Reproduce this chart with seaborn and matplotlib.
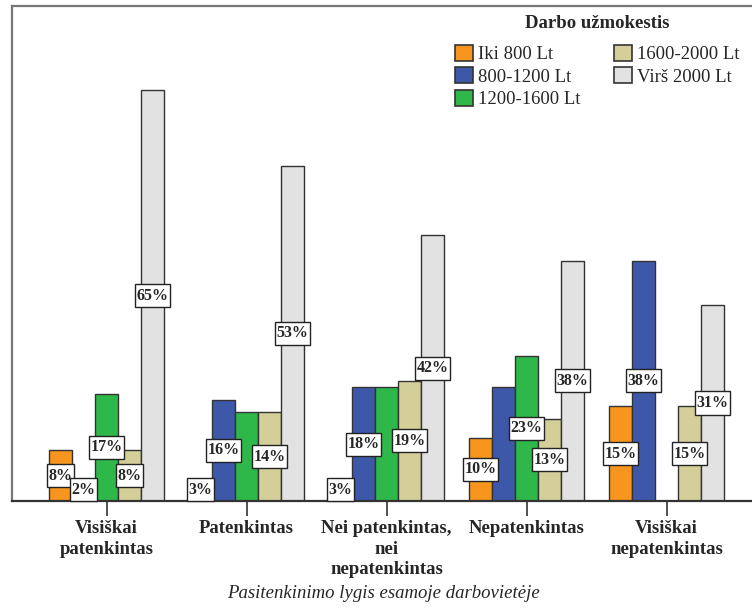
import matplotlib
matplotlib.use("Agg")
import matplotlib.pyplot as plt
from matplotlib.path import Path
import numpy as np
import pandas as pd
import seaborn as sns

# Satisfaction level categories (x axis)
categories = [
    "Visiškai\npatenkintas",
    "Patenkintas",
    "Nei patenkintas,\nnei\nnepatenkintas",
    "Nepatenkintas",
    "Visiškai\nnepatenkintas",
]

# Salary groups (hue)
salary_groups = ["Iki 800 Lt", "800-1200 Lt", "1200-1600 Lt", "1600-2000 Lt", "Virš 2000 Lt"]

# Percent of each salary group per category
pct_iki_800 = [8, 3, 3, 10, 15]
pct_800_1200 = [2, 16, 18, 18, 38]
pct_1200_1600 = [17, 14, 18, 23, 0]
pct_1600_2000 = [8, 14, 19, 13, 15]
pct_virs_2000 = [65, 53, 42, 38, 31]

# Whether the value label of each bar is printed
show_iki_800 = [True, True, True, True, True]
show_800_1200 = [True, True, True, False, True]
show_1200_1600 = [True, False, False, True, False]
show_1600_2000 = [True, True, True, True, True]
show_virs_2000 = [True, True, True, True, True]

palette = ["#F7951F", "#3D57A9", "#2FB84A", "#D4CF99", "#E2E2E2"]

series = [pct_iki_800, pct_800_1200, pct_1200_1600, pct_1600_2000, pct_virs_2000]
shows = [show_iki_800, show_800_1200, show_1200_1600, show_1600_2000, show_virs_2000]

rows = []
for g, vals in zip(salary_groups, series):
    for c, v in zip(categories, vals):
        rows.append({"Pasitenkinimas": c, "Užmokestis": g, "Procentai": v})
df = pd.DataFrame(rows)

sns.set_style("white")
plt.rcParams["font.family"] = ["Liberation Serif", "DejaVu Serif"]


def label_box(x0, y0, width, height, mutation_size):
    """Rectangular box with separate horizontal and vertical padding."""
    px = 0.10 * mutation_size
    py = 0.22 * mutation_size
    x0, y0 = x0 - px, y0 - py
    x1, y1 = x0 + width + 2 * px, y0 + height + 2 * py
    return Path([(x0, y0), (x1, y0), (x1, y1), (x0, y1), (x0, y0)],
                closed=True)


fig = plt.figure(figsize=(7.52, 6.10), dpi=100)
ax = fig.add_axes([12 / 752, 109 / 610, 749 / 752, 495 / 610])

sns.barplot(
    data=df, x="Pasitenkinimas", y="Procentai", hue="Užmokestis",
    order=categories, hue_order=salary_groups, palette=palette,
    width=0.82, errorbar=None, edgecolor="#333333", linewidth=1.0,
    saturation=1, ax=ax,
)

ax.set_xlim(-0.675, 4.675)
ax.set_ylim(0, 78.3)
ax.set_yticks([])
ax.set_ylabel("")

# Value labels in white boxes, centred in each bar
for cont, vals, flags in zip(ax.containers, series, shows):
    for bar, v, f in zip(cont.patches, vals, flags):
        if not f or v <= 0:
            continue
        xc = bar.get_x() + bar.get_width() / 2
        yc = max(v / 2, 1.75)
        ax.text(xc, yc, f"{v}%", ha="center", va="center", fontsize=11.5,
                fontweight="bold", zorder=5,
                bbox=dict(boxstyle=label_box, fc="white",
                          ec="#222222", lw=1.0))

for side in ["left", "top", "right"]:
    ax.spines[side].set_color("#777777")
    ax.spines[side].set_linewidth(1.6)
ax.spines["bottom"].set_color("#333333")
ax.spines["bottom"].set_linewidth(1.6)

ax.tick_params(axis="x", length=11, width=1.2, color="#333333", pad=3,
               labelsize=13.5, bottom=True)
for lab in ax.get_xticklabels():
    lab.set_fontweight("bold")
    lab.set_linespacing(1.25)

ax.set_xlabel("Pasitenkinimo lygis esamoje darbovietėje", fontsize=13.5,
              fontstyle="italic", va="center")
ax.xaxis.set_label_coords((383 - 12) / 749, (501 - 593) / 495)

handles, labels = ax.get_legend_handles_labels()
if ax.legend_ is not None:
    ax.legend_.remove()
leg = fig.legend(
    handles, labels, title="Darbo užmokestis", ncol=2,
    loc="upper left", bbox_to_anchor=(440 / 752, 1.0),
    frameon=False, fontsize=13.5, title_fontsize=13.5,
    handlelength=0.95, handleheight=0.95, handletextpad=0.3,
    columnspacing=1.75, labelspacing=0.22, borderpad=0.3,
)
leg._legend_box.sep = 9
leg.get_title().set_fontweight("bold")
for h in leg.legend_handles:
    h.set_edgecolor("#333333")
    h.set_linewidth(1.2)

fig.savefig("out.png", dpi=100)
